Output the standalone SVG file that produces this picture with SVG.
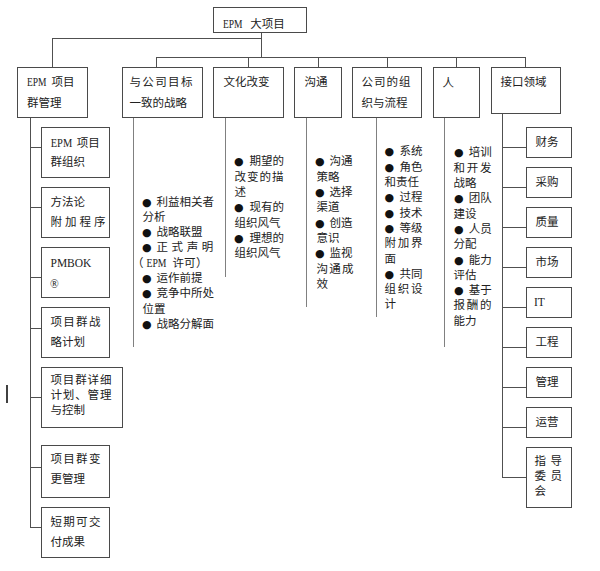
<svg xmlns="http://www.w3.org/2000/svg" width="600" height="571" viewBox="0 0 600 571">
<style>
text{font-family:"Liberation Serif","Noto Sans CJK SC",serif;font-size:11.5px;fill:#222}
.lat{font-family:"Liberation Serif",serif;font-size:11.5px}
.e{font-family:"Liberation Serif",serif;font-size:11.5px}
.b{font-family:"DejaVu Sans",sans-serif;font-size:11px;fill:#111}
rect{fill:#fff;stroke:#4a4a4a;stroke-width:1}
.c path{fill:none;stroke:#505050;stroke-width:1}
.c path.g{stroke:#808080}
</style>
<rect x="0" y="0" width="600" height="571" style="fill:#fff;stroke:none"/>
<g class="c" id="connectors">
<path d="M261.5 32V57.5M52.5 38.5H261.5M52.5 38V67M156.5 57.5H525.5M156.5 57V67M248.5 57V67M318.5 57V67M387.5 57V67M456.5 57V67M525.5 57V67"/>
<path d="M30.5 117V527.5M30 147.5H41M30 207.5H41M30 277.5H41M30 328.5H41M30 397.5H41M30 467.5H41M30 527.5H41"/>
<path class="g" d="M133.5 117V347M225.5 117V277M306.5 117V307M376.5 117V317M444.5 117V347"/>
<path d="M502.5 113V477.5M502 147.5H526M502 187.5H526M502 227.5H526M502 267.5H526M502 307.5H526M502 347.5H526M502 387.5H526M502 427.5H526M502 477.5H526"/>
<path d="M7 385V403" style="stroke:#111;stroke-width:1.6"/>
</g>
<g id="root"><rect x="213.5" y="7.5" width="93" height="25"/><text y="27.7"><tspan x="223" class="e" textLength="19.5" lengthAdjust="spacingAndGlyphs">EPM</tspan><tspan x="250.3">大项目</tspan></text></g>
<g id="epm"><rect x="17.5" y="67.5" width="70" height="50"/><text y="86.4"><tspan x="27" class="e" textLength="19.5" lengthAdjust="spacingAndGlyphs">EPM</tspan><tspan x="51.5">项目</tspan></text><text x="27" y="107.4">群管理</text></g>
<g id="strategy"><rect x="122.5" y="67.5" width="80" height="50"/><text x="129.5" y="86.4" letter-spacing="1.35">与公司目标</text><text x="129.5" y="107.4">一致的战略</text>
<text y="205.5"><tspan x="142" class="b">●</tspan><tspan x="156.5">利益相关者</tspan></text>
<text x="142.5" y="220.8">分析</text>
<text y="236.1"><tspan x="142" class="b">●</tspan><tspan x="156.5">战略联盟</tspan></text>
<text y="251.4"><tspan x="142" class="b">●</tspan><tspan x="156.5" letter-spacing="3.6">正式声明</tspan></text>
<text y="266.7"><tspan x="132">（</tspan><tspan x="146.5" class="e" textLength="20" lengthAdjust="spacingAndGlyphs">EPM</tspan><tspan x="172.5">许可</tspan><tspan x="196">）</tspan></text>
<text y="282"><tspan x="142" class="b">●</tspan><tspan x="156.5">运作前提</tspan></text>
<text y="297.3"><tspan x="142" class="b">●</tspan><tspan x="156.5">竞争中所处</tspan></text>
<text x="142.5" y="312.6">位置</text>
<text y="327.9"><tspan x="142" class="b">●</tspan><tspan x="156.5">战略分解面</tspan></text></g>
<g id="culture"><rect x="213.5" y="67.5" width="70" height="50"/><text x="223.5" y="86.4">文化改变</text>
<text y="165.4"><tspan x="234" class="b">●</tspan><tspan x="249.5">期望的</tspan></text>
<text x="234.5" y="180.7" letter-spacing="1">改变的描</text>
<text x="234.5" y="196">述</text>
<text y="211.3"><tspan x="234" class="b">●</tspan><tspan x="249.5">现有的</tspan></text>
<text x="234.5" y="226.6">组织风气</text>
<text y="241.9"><tspan x="234" class="b">●</tspan><tspan x="249.5">理想的</tspan></text>
<text x="234.5" y="257.2">组织风气</text></g>
<g id="comm"><rect x="294.5" y="67.5" width="47" height="50"/><text x="304.5" y="86.4">沟通</text>
<text y="165.4"><tspan x="315" class="b">●</tspan><tspan x="329.5">沟通</tspan></text>
<text x="316.5" y="180.7">策略</text>
<text y="196"><tspan x="315" class="b">●</tspan><tspan x="329.5">选择</tspan></text>
<text x="316.5" y="211.3">渠道</text>
<text y="226.6"><tspan x="315" class="b">●</tspan><tspan x="329.5">创造</tspan></text>
<text x="316.5" y="241.9">意识</text>
<text y="257.2"><tspan x="315" class="b">●</tspan><tspan x="329.5">监视</tspan></text>
<text x="316.5" y="272.5" letter-spacing="1.2">沟通成</text>
<text x="316.5" y="287.8">效</text></g>
<g id="org"><rect x="352.5" y="67.5" width="69" height="50"/><text x="361.5" y="86.4" letter-spacing="1">公司的组</text><text x="361.5" y="107.4">织与流程</text>
<text y="155.4"><tspan x="384.5" class="b">●</tspan><tspan x="399.5">系统</tspan></text>
<text y="170.7"><tspan x="384.5" class="b">●</tspan><tspan x="399.5">角色</tspan></text>
<text x="384.5" y="186">和责任</text>
<text y="201.3"><tspan x="384.5" class="b">●</tspan><tspan x="399.5">过程</tspan></text>
<text y="216.6"><tspan x="384.5" class="b">●</tspan><tspan x="399.5">技术</tspan></text>
<text y="231.9"><tspan x="384.5" class="b">●</tspan><tspan x="399.5">等级</tspan></text>
<text x="384.5" y="247.2" letter-spacing="1.7">附加界</text>
<text x="384.5" y="262.5">面</text>
<text y="277.8"><tspan x="384.5" class="b">●</tspan><tspan x="399.5">共同</tspan></text>
<text x="384.5" y="293.1" letter-spacing="1.7">组织设</text>
<text x="384.5" y="308.4">计</text></g>
<g id="people"><rect x="433.5" y="67.5" width="46" height="50"/><text x="442.5" y="87.4" font-size="12">人</text>
<text y="156.4"><tspan x="454" class="b">●</tspan><tspan x="468.8">培训</tspan></text>
<text x="453.5" y="171.7" letter-spacing="1.7">和开发</text>
<text x="453.5" y="187">战略</text>
<text y="202.3"><tspan x="454" class="b">●</tspan><tspan x="468.8">团队</tspan></text>
<text x="453.5" y="217.6">建设</text>
<text y="232.9"><tspan x="454" class="b">●</tspan><tspan x="468.8">人员</tspan></text>
<text x="453.5" y="248.2">分配</text>
<text y="263.5"><tspan x="454" class="b">●</tspan><tspan x="468.8">能力</tspan></text>
<text x="453.5" y="278.8">评估</text>
<text y="294.1"><tspan x="454" class="b">●</tspan><tspan x="468.8">基于</tspan></text>
<text x="453.5" y="309.4" letter-spacing="1.7">报酬的</text>
<text x="453.5" y="324.7">能力</text></g>
<g id="iface"><rect x="491.5" y="67.5" width="69" height="46"/><text x="500.5" y="86.4">接口领域</text></g>
<g id="l1"><rect x="41.5" y="127.5" width="68" height="50"/><text y="147.4"><tspan x="50.7" class="e" textLength="21.5" lengthAdjust="spacingAndGlyphs">EPM</tspan><tspan x="76.8">项目</tspan></text><text x="50.5" y="166.4">群组织</text></g>
<g id="l2"><rect x="41.5" y="187.5" width="68" height="50"/><text x="50.5" y="206.4">方法论</text><text x="50.5" y="226.4" letter-spacing="3">附加程序</text></g>
<g id="l3"><rect x="41.5" y="247.5" width="68" height="50"/><text x="50.5" y="267" class="lat">PMBOK</text><text x="50" y="288" class="lat" font-size="12.5">®</text></g>
<g id="l4"><rect x="41.5" y="307.5" width="68" height="50"/><text x="50.5" y="326.4" letter-spacing="1.3">项目群战</text><text x="50.5" y="346.4">略计划</text></g>
<g id="l5"><rect x="41.5" y="367.5" width="81" height="60"/><text x="50.5" y="384.4" letter-spacing="0.85">项目群详细</text><text x="50.5" y="399.4" letter-spacing="0.85">计划、管理</text><text x="50.5" y="414.4">与控制</text></g>
<g id="l6"><rect x="41.5" y="445.5" width="68" height="52"/><text x="50.5" y="463.4" letter-spacing="1.3">项目群变</text><text x="50.5" y="483.4">更管理</text></g>
<g id="l7"><rect x="41.5" y="507.5" width="68" height="50"/><text x="50.5" y="526.4" letter-spacing="1.3">短期可交</text><text x="50.5" y="546.4">付成果</text></g>
<g id="r1"><rect x="526.5" y="127.5" width="45" height="30"/><text x="535.5" y="146.4">财务</text></g>
<g id="r2"><rect x="526.5" y="167.5" width="45" height="30"/><text x="535.5" y="186.4">采购</text></g>
<g id="r3"><rect x="526.5" y="207.5" width="45" height="30"/><text x="535.5" y="226.4">质量</text></g>
<g id="r4"><rect x="526.5" y="247.5" width="45" height="30"/><text x="535.5" y="266.4">市场</text></g>
<g id="r5"><rect x="526.5" y="287.5" width="45" height="30"/><text x="534" y="306.2" class="lat">IT</text></g>
<g id="r6"><rect x="526.5" y="327.5" width="45" height="30"/><text x="535.5" y="346.4">工程</text></g>
<g id="r7"><rect x="526.5" y="367.5" width="45" height="30"/><text x="535.5" y="386.4">管理</text></g>
<g id="r8"><rect x="526.5" y="407.5" width="45" height="30"/><text x="535.5" y="426.4">运营</text></g>
<g id="r9"><rect x="526.5" y="447.5" width="45" height="60"/><text x="534.5" y="465.4" letter-spacing="4.5">指导</text><text x="534.5" y="480.4" letter-spacing="4.5">委员</text><text x="534.5" y="495.4">会</text></g>
</svg>
